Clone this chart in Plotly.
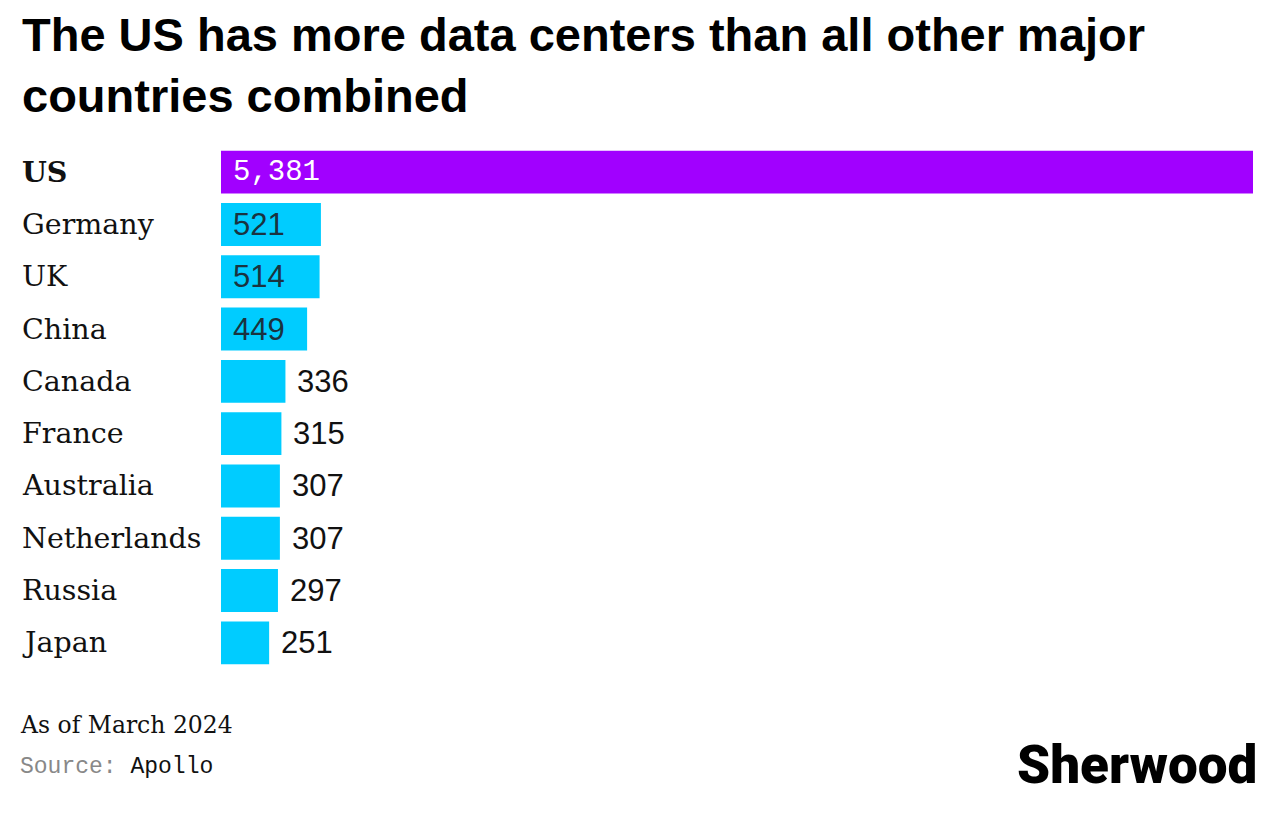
import plotly.graph_objects as go

countries = ["US", "Germany", "UK", "China", "Canada", "France", "Australia", "Netherlands", "Russia", "Japan"]
values = [5381, 521, 514, 449, 336, 315, 307, 307, 297, 251]
value_labels = ["5,381", "521", "514", "449", "336", "315", "307", "307", "297", "251"]
highlight = "US"

title_lines = ["The US has more data centers than all other major", "countries combined"]
note_text = "As of March 2024"
source_label = "Source:"
source_name = "Apollo"
brand = "Sherwood"

PURPLE = "#A100FF"
CYAN = "#00CCFF"

W, H = 1280, 817
OFF = 8  # page body margin offset
L, R, T, B = 221 - OFF, 27 + OFF, 146 - OFF, 148 + OFF
plot_h = H - T - B
plot_w = W - L - R


def py(p):
    return (H - B - (p - OFF)) / plot_h


def px(p):
    return ((p - OFF) - L) / plot_w


colors = [PURPLE if c == highlight else CYAN for c in countries]

fig = go.Figure(go.Bar(
    x=values, y=countries, orientation="h",
    marker=dict(color=colors, line=dict(width=0)),
    hoverinfo="skip",
))

ann = []
for c, v, lab in zip(countries, values, value_labels):
    # category label
    ann.append(dict(
        x=px(20), xref="paper", y=c, yref="y", xanchor="left", yanchor="middle",
        text=("<b>%s</b>" % c) if c == highlight else c, showarrow=False,
        font=dict(family="DejaVu Serif", size=28.5, color="#111111"),
    ))
    if c == highlight:
        ann.append(dict(
            x=0, xref="x", y=c, yref="y", xanchor="left", yanchor="middle", xshift=10,
            text=lab, showarrow=False,
            font=dict(family="Liberation Mono", size=29, color="#ffffff"),
        ))
    elif v > 400:
        ann.append(dict(
            x=0, xref="x", y=c, yref="y", xanchor="left", yanchor="middle", xshift=10,
            text=lab, showarrow=False,
            font=dict(family="Liberation Sans", size=31, color="#1a3340"),
        ))
    else:
        ann.append(dict(
            x=v, xref="x", y=c, yref="y", xanchor="left", yanchor="middle", xshift=10,
            text=lab, showarrow=False,
            font=dict(family="Liberation Sans", size=31, color="#111111"),
        ))

# title
ann.append(dict(
    x=px(20), xref="paper", y=py(6), yref="paper", xanchor="left", yanchor="top",
    text="<br>".join("<b>%s</b>" % t for t in title_lines), showarrow=False, align="left",
    font=dict(family="Liberation Sans", size=47, color="#000000"),
))
# note
ann.append(dict(
    x=px(18), xref="paper", y=py(725), yref="paper", xanchor="left", yanchor="middle",
    text=note_text, showarrow=False,
    font=dict(family="DejaVu Serif", size=23.5, color="#111111"),
))
# source
ann.append(dict(
    x=px(18), xref="paper", y=py(767), yref="paper", xanchor="left", yanchor="middle",
    text="<span style='color:#888888'>%s</span> %s" % (source_label, source_name), showarrow=False,
    font=dict(family="Liberation Mono", size=23, color="#111111"),
))
# brand
ann.append(dict(
    x=px(1259), xref="paper", y=py(765), yref="paper", xanchor="right", yanchor="middle",
    text=brand, showarrow=False,
    font=dict(family="Roboto", size=53, weight=900, color="#000000"),
))

fig.update_layout(
    width=W, height=H,
    margin=dict(l=L, r=R, t=T, b=B),
    paper_bgcolor="#ffffff", plot_bgcolor="#ffffff",
    bargap=0.18,
    showlegend=False,
    xaxis=dict(range=[0, values[0]], visible=False, fixedrange=True),
    yaxis=dict(categoryorder="array", categoryarray=countries, range=[len(countries) - 0.5, -0.5],
               visible=False, fixedrange=True),
    annotations=ann,
)

fig.write_html("out.html", config={"displayModeBar": False})
